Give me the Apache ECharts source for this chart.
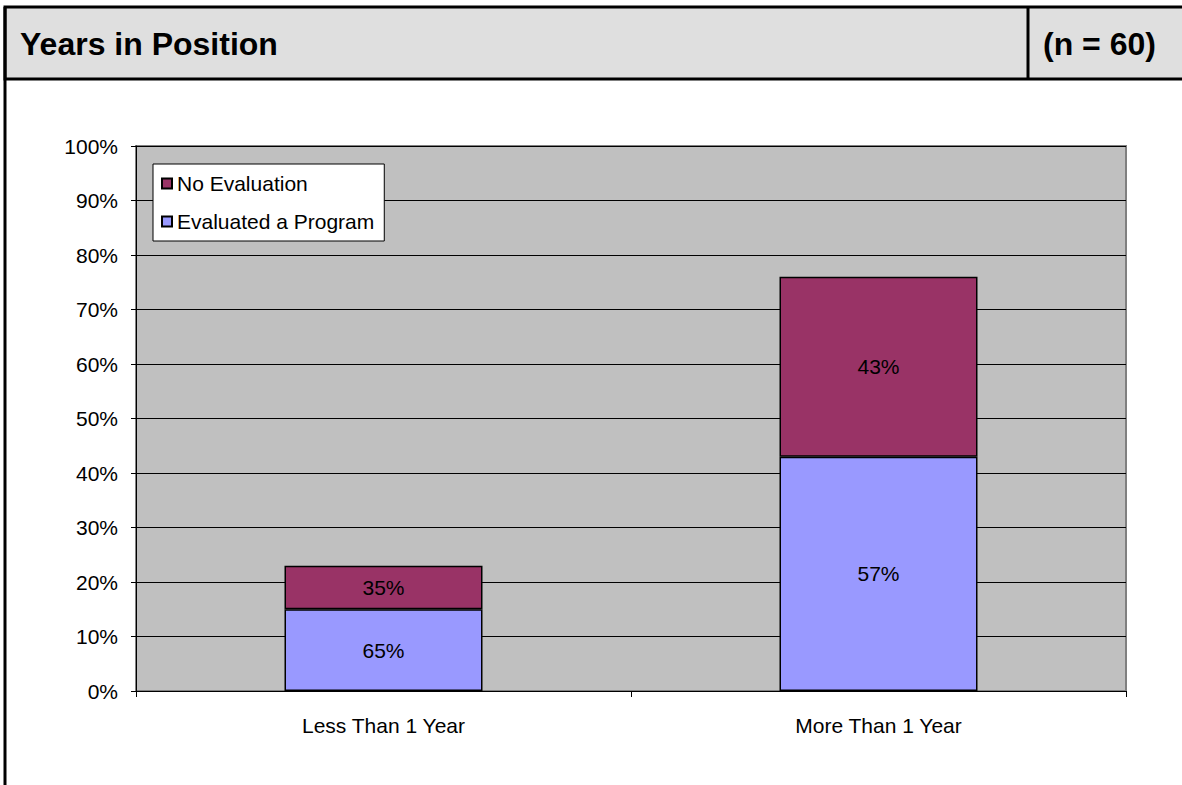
<!DOCTYPE html>
<html>
<head>
<meta charset="utf-8">
<script src="https://cdn.jsdelivr.net/npm/echarts@6/dist/echarts.min.js"></script>
<style>
  html, body { margin: 0; padding: 0; background: #fff; }
  #chart { width: 1182px; height: 785px; }
</style>
</head>
<body>
<div id="chart"></div>
<script>
// data
var categories = ['Less Than 1 Year', 'More Than 1 Year'];
var evaluated = [15, 43];        // % of all respondents
var noEvaluation = [8, 33];
var evaluatedShare = ['65%', '57%'];   // share within each bar (label text)
var noEvalShare = ['35%', '43%'];
var yTicks = [0, 10, 20, 30, 40, 50, 60, 70, 80, 90, 100];

var font = 'Arial, "Liberation Sans", sans-serif';

var myChart = echarts.init(document.getElementById('chart'), null, { renderer: 'svg' });

var option = {
    animation: false,
    textStyle: { fontFamily: font },
    graphic: [
        // header bar
        {
            type: 'rect',
            shape: { x: 5, y: 7, width: 1190, height: 72 },
            style: { fill: '#DFDFDF', stroke: '#000', lineWidth: 3 },
            z: 1
        },
        {
            type: 'line',
            shape: { x1: 1028, y1: 7, x2: 1028, y2: 79 },
            style: { stroke: '#000', lineWidth: 3 },
            z: 2
        },
        // left page border
        {
            type: 'line',
            shape: { x1: 5, y1: 7, x2: 5, y2: 790 },
            style: { stroke: '#000', lineWidth: 3 },
            z: 2
        },
        {
            type: 'text',
            left: 20,
            top: 28,
            style: { text: 'Years in Position', font: 'bold 32px ' + font, fill: '#000' },
            z: 3
        },
        {
            type: 'text',
            left: 1043,
            top: 28,
            style: { text: '(n = 60)', font: 'bold 32px ' + font, fill: '#000' },
            z: 3
        }
    ],
    legend: {
        data: ['No Evaluation', 'Evaluated a Program'],
        orient: 'vertical',
        left: 153,
        top: 164,
        backgroundColor: '#fff',
        borderColor: '#000',
        borderWidth: 1,
        borderRadius: 0,
        padding: [9, 10, 9, 8],
        itemWidth: 10,
        itemHeight: 10,
        itemGap: 17,
        icon: 'rect',
        textStyle: { fontSize: 21, color: '#000', padding: [0, 0, 0, 0] }
    },
    grid: {
        left: 136,
        top: 146,
        width: 990,
        height: 545,
        show: true,
        backgroundColor: '#C0C0C0',
        borderColor: '#808080',
        borderWidth: 2
    },
    xAxis: {
        type: 'category',
        data: categories,
        axisLine: { lineStyle: { color: '#000', width: 1 } },
        axisTick: { show: true, alignWithLabel: false, length: 6, lineStyle: { color: '#000' } },
        axisLabel: { fontSize: 21, color: '#000', margin: 24 }
    },
    yAxis: {
        type: 'value',
        min: yTicks[0],
        max: yTicks[yTicks.length - 1],
        interval: 10,
        axisLine: { show: true, lineStyle: { color: '#000', width: 1 } },
        axisTick: { show: true, length: 5, lineStyle: { color: '#000' } },
        axisLabel: { fontSize: 21, color: '#000', margin: 18, formatter: '{value}%' },
        splitLine: { show: true, lineStyle: { color: '#000', width: 1 } }
    },
    series: [
        {
            name: 'Evaluated a Program',
            type: 'bar',
            stack: 'total',
            barWidth: '40%',
            data: evaluated,
            itemStyle: { color: '#9999FF', borderColor: '#000', borderWidth: 1.5 },
            label: {
                show: true,
                position: 'inside',
                fontSize: 21,
                color: '#000',
                formatter: function (p) { return evaluatedShare[p.dataIndex]; }
            }
        },
        {
            name: 'No Evaluation',
            type: 'bar',
            stack: 'total',
            barWidth: '40%',
            data: noEvaluation,
            itemStyle: { color: '#993366', borderColor: '#000', borderWidth: 1.5 },
            label: {
                show: true,
                position: 'inside',
                fontSize: 21,
                color: '#000',
                formatter: function (p) { return noEvalShare[p.dataIndex]; }
            }
        }
    ]
};

myChart.setOption(option);
</script>
</body>
</html>
